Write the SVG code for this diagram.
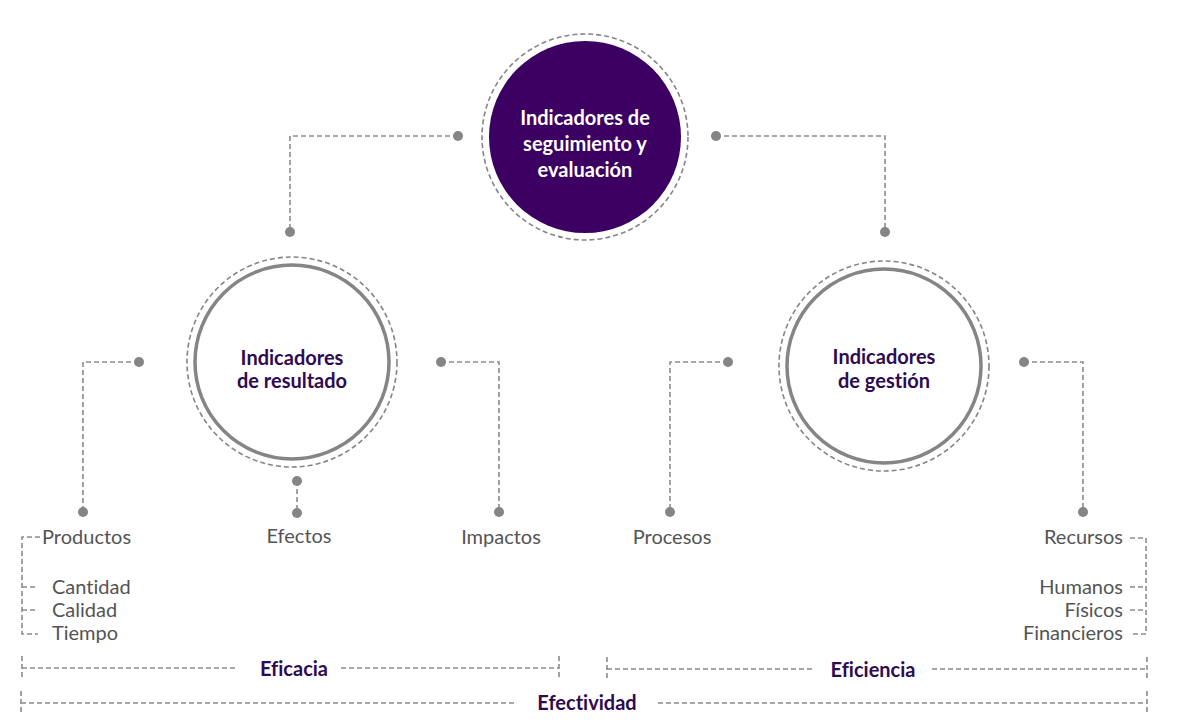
<svg xmlns="http://www.w3.org/2000/svg" width="1192" height="724" viewBox="0 0 1192 724">
  <style>
    .dash { fill: none; stroke: #8c8c8c; stroke-width: 1.6; stroke-dasharray: 5 3; }
    .ring { fill: none; stroke: #858585; stroke-width: 1.6; stroke-dasharray: 5 3; }
    .solid { fill: #ffffff; stroke: #858585; stroke-width: 3.5; }
    .dot { fill: #858585; }
    text { font-family: "Source Sans Pro", Lato, "Liberation Sans", sans-serif; font-size: 20px; font-variant-ligatures: none; }
    .lbl { fill: #545454; }
    .head { font-weight: 700; fill: #2e0a52; text-anchor: middle; }
    .hub { font-weight: 700; fill: #ffffff; text-anchor: middle; }
  </style>
  <rect width="1192" height="724" fill="#ffffff"/>

  <!-- connectors -->
  <g id="connectors">
    <path class="dash" d="M458 136 H290 V232"/>
    <path class="dash" d="M716 136 H885 V232"/>
    <path class="dash" d="M139 362 H83 V512"/>
    <path class="dash" d="M441 362 H499 V512"/>
    <path class="dash" d="M297 481 V513"/>
    <path class="dash" d="M728 362 H670 V512"/>
    <path class="dash" d="M1024 362 H1083 V512"/>
    <g class="dot">
      <circle cx="458" cy="136" r="5"/>
      <circle cx="290" cy="232" r="5"/>
      <circle cx="716" cy="136" r="5"/>
      <circle cx="885" cy="232" r="5"/>
      <circle cx="139" cy="362" r="5"/>
      <circle cx="83" cy="512" r="5"/>
      <circle cx="441" cy="362" r="5"/>
      <circle cx="499" cy="512" r="5"/>
      <circle cx="297" cy="481" r="5"/>
      <circle cx="297" cy="513" r="5"/>
      <circle cx="728" cy="362" r="5"/>
      <circle cx="670" cy="512" r="5"/>
      <circle cx="1024" cy="362" r="5"/>
      <circle cx="1083" cy="512" r="5"/>
    </g>
  </g>

  <!-- central node -->
  <g id="node-seguimiento">
    <circle class="ring" cx="585" cy="137" r="103"/>
    <circle cx="585" cy="137" r="96" fill="#3b0061"/>
    <text class="hub" x="585" y="125">Indicadores de</text>
    <text class="hub" x="585" y="151">seguimiento y</text>
    <text class="hub" x="585" y="177">evaluación</text>
  </g>

  <g id="node-resultado">
    <circle class="ring" cx="292" cy="362" r="105"/>
    <circle class="solid" cx="292" cy="362" r="97"/>
    <text class="head" x="292" y="365">Indicadores</text>
    <text class="head" x="292" y="388">de resultado</text>
  </g>

  <g id="node-gestion">
    <circle class="ring" cx="884" cy="366" r="105"/>
    <circle class="solid" cx="884" cy="366" r="97"/>
    <text class="head" x="884" y="364">Indicadores</text>
    <text class="head" x="884" y="388">de gestión</text>
  </g>

  <!-- leaf labels -->
  <g id="leaf-productos">
    <text class="lbl" x="42" y="544">Productos</text>
    <path class="dash" d="M40 537 H22 V634 H38 M22 587 H38 M22 610 H38"/>
    <text class="lbl" x="52" y="594">Cantidad</text>
    <text class="lbl" x="52" y="617">Calidad</text>
    <text class="lbl" x="52" y="640">Tiempo</text>
  </g>
  <g id="leaf-efectos">
    <text class="lbl" x="299" y="543" text-anchor="middle">Efectos</text>
  </g>
  <g id="leaf-impactos">
    <text class="lbl" x="501" y="544" text-anchor="middle">Impactos</text>
  </g>
  <g id="leaf-procesos">
    <text class="lbl" x="672" y="544" text-anchor="middle">Procesos</text>
  </g>
  <g id="leaf-recursos">
    <text class="lbl" x="1123" y="544" text-anchor="end">Recursos</text>
    <path class="dash" d="M1130 538 H1146 V634 H1130 M1130 587 H1146 M1130 610 H1146"/>
    <text class="lbl" x="1123" y="594" text-anchor="end">Humanos</text>
    <text class="lbl" x="1123" y="617" text-anchor="end">Físicos</text>
    <text class="lbl" x="1123" y="640" text-anchor="end">Financieros</text>
  </g>

  <!-- range brackets -->
  <g id="range-eficacia">
    <path class="dash" d="M22 656 V680 M559 656 V680 M22 668 H235 M341 668 H559"/>
    <text class="head" x="294" y="676">Eficacia</text>
  </g>
  <g id="range-eficiencia">
    <path class="dash" d="M607 657 V681 M1147 657 V681 M607 669 H812 M932 669 H1147"/>
    <text class="head" x="873" y="677">Eficiencia</text>
  </g>
  <g id="range-efectividad">
    <path class="dash" d="M21 691 V715 M1147 691 V715 M21 703 H515 M658 703 H1147"/>
    <text class="head" x="587" y="710">Efectividad</text>
  </g>
</svg>
